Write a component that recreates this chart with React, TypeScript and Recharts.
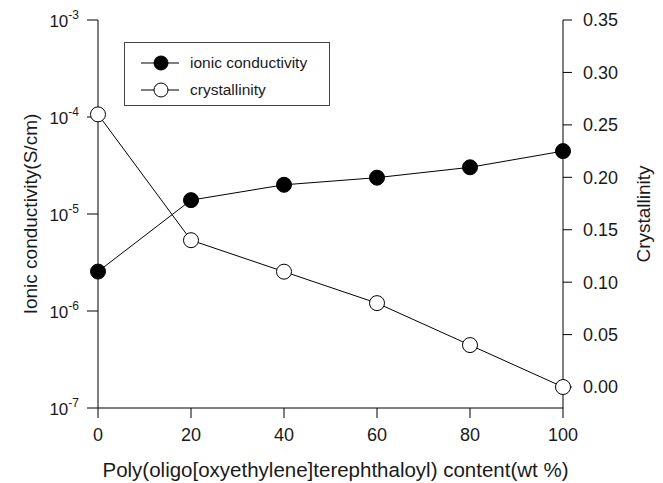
import React from "react";
import {
  Legend,
  Line,
  LineChart,
  XAxis,
  YAxis,
} from "recharts";

// wt % of poly(oligo[oxyethylene]terephthaloyl)
const contents = [0, 20, 40, 60, 80, 100];
const conductivity = [2.55e-6, 1.39e-5, 2.0e-5, 2.37e-5, 3.03e-5, 4.45e-5];
const crystallinity = [0.26, 0.14, 0.11, 0.08, 0.04, 0.0];

const xTicks = [0, 20, 40, 60, 80, 100];
const logTicks = [1e-7, 1e-6, 1e-5, 1e-4, 1e-3];
const crysTicks = [0, 0.05, 0.1, 0.15, 0.2, 0.25, 0.3, 0.35];

const data = contents.map((x, i) => ({
  x,
  cond: conductivity[i],
  crys: crystallinity[i],
}));

const FONT = "'Liberation Sans', Arial, sans-serif";
const INK = "#1a1a1a";

function PowerTick(props: any) {
  const { x, y, payload } = props;
  const exp = Math.round(Math.log10(payload.value));
  return (
    <text x={x} y={y + 7} textAnchor="end" fill={INK} fontFamily={FONT}>
      <tspan fontSize={17}>10</tspan>
      <tspan fontSize={12} dy={-8}>
        {exp}
      </tspan>
    </text>
  );
}

function LegendBox() {
  const rows = [
    { name: "ionic conductivity", fill: "#000" },
    { name: "crystallinity", fill: "#fff" },
  ];
  return (
    <div
      style={{
        border: "1px solid #444",
        width: 206,
        height: 64,
        boxSizing: "border-box",
        padding: "6px 0 0 16px",
        fontFamily: FONT,
        fontSize: 15.5,
        color: INK,
        background: "#fff",
      }}
    >
      {rows.map((r) => (
        <div key={r.name} style={{ display: "flex", alignItems: "center", height: 27 }}>
          <svg width={38} height={18} style={{ marginRight: 11 }}>
            <line x1={0} y1={9} x2={38} y2={9} stroke="#000" strokeWidth={1} />
            <circle cx={20} cy={9} r={7} fill={r.fill} stroke="#000" strokeWidth={1} />
          </svg>
          <span>{r.name}</span>
        </div>
      ))}
    </div>
  );
}

export default function App() {
  return (
    <div style={{ position: "absolute", left: 0, top: 0, background: "#fff" }}>
      <LineChart
        width={663}
        height={483}
        data={data}
        margin={{ top: 20, right: 0, bottom: 0, left: 0 }}
      >
        <XAxis
          dataKey="x"
          type="number"
          domain={[0, 100]}
          ticks={xTicks}
          height={75}
          tickSize={10}
          tickMargin={10}
          stroke="#000"
          tick={{ fill: INK, fontSize: 18, fontFamily: FONT }}
          label={{
            value: "Poly(oligo[oxyethylene]terephthaloyl) content(wt %)",
            position: "insideBottom",
            offset: 6,
            dx: 5,
            fill: INK,
            fontSize: 20.5,
            fontFamily: FONT,
          }}
        />
        <XAxis
          xAxisId="top"
          dataKey="x"
          type="number"
          domain={[0, 100]}
          orientation="top"
          height={0}
          tick={false}
          tickLine={false}
          stroke="#000"
        />
        <YAxis
          yAxisId="left"
          scale="log"
          domain={[1e-7, 1e-3]}
          ticks={logTicks}
          width={98}
          tickSize={11}
          tickMargin={8}
          stroke="#000"
          tick={<PowerTick />}
          label={{
            value: "Ionic conductivity(S/cm)",
            angle: -90,
            position: "insideLeft",
            offset: 30,
            style: { textAnchor: "middle" },
            fill: INK,
            fontSize: 19,
            fontFamily: FONT,
          }}
        />
        <YAxis
          yAxisId="right"
          orientation="right"
          domain={[-0.02, 0.35]}
          ticks={crysTicks}
          width={100}
          tickSize={9}
          tickMargin={11}
          stroke="#000"
          tickFormatter={(v: number) => v.toFixed(2)}
          tick={{ fill: INK, fontSize: 18, fontFamily: FONT }}
          label={{
            value: "Crystallinity",
            angle: -90,
            position: "insideRight",
            offset: 20,
            style: { textAnchor: "middle" },
            fill: INK,
            fontSize: 19,
            fontFamily: FONT,
          }}
        />
        <Legend
          layout="horizontal"
          verticalAlign="middle"
          align="center"
          wrapperStyle={{ left: 124, top: 42, width: "auto" }}
          content={() => <LegendBox />}
        />
        <Line
          yAxisId="left"
          dataKey="cond"
          name="ionic conductivity"
          stroke="#000"
          strokeWidth={1}
          dot={{ r: 7.5, fill: "#000", stroke: "#000", strokeWidth: 1 }}
          isAnimationActive={false}
        />
        <Line
          yAxisId="right"
          dataKey="crys"
          name="crystallinity"
          stroke="#000"
          strokeWidth={1}
          dot={{ r: 7.5, fill: "#fff", stroke: "#000", strokeWidth: 1 }}
          isAnimationActive={false}
        />
      </LineChart>
    </div>
  );
}
